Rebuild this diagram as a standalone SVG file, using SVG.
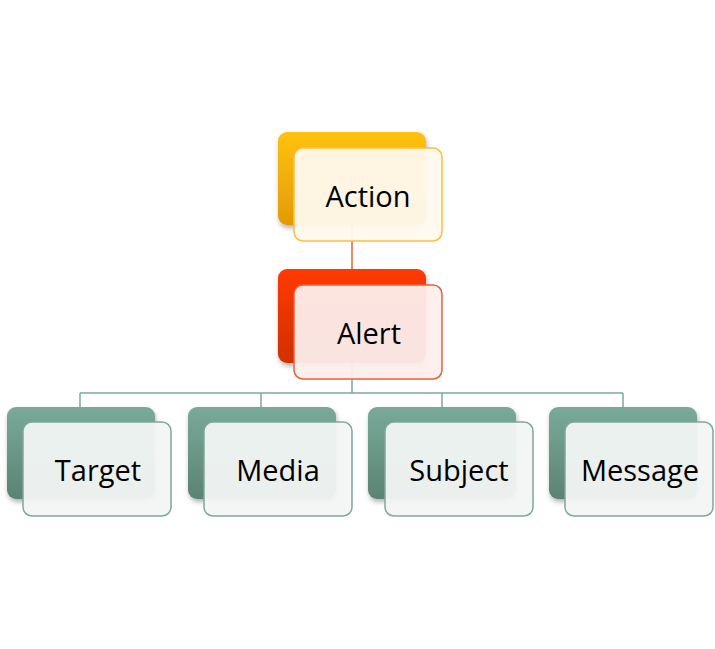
<svg xmlns="http://www.w3.org/2000/svg" width="715" height="649" viewBox="0 0 715 649">
<defs>
<linearGradient id="gA" x1="0" y1="0" x2="0" y2="1"><stop offset="0" stop-color="#FFC20F"/><stop offset="1" stop-color="#E29A05"/></linearGradient>
<linearGradient id="gR" x1="0" y1="0" x2="0" y2="1"><stop offset="0" stop-color="#FF3A00"/><stop offset="1" stop-color="#CF3002"/></linearGradient>
<linearGradient id="gT" x1="0" y1="0" x2="0" y2="1"><stop offset="0" stop-color="#79AA99"/><stop offset="1" stop-color="#5B8373"/></linearGradient>
<filter id="sh" x="-10%" y="-10%" width="125%" height="130%"><feDropShadow dx="1" dy="3" stdDeviation="2.5" flood-color="#000" flood-opacity="0.3"/></filter>
</defs>
<style>
.lbl{font-family:"Open Sans","Noto Sans","Liberation Sans",sans-serif;font-size:29px;fill:#000;text-anchor:middle}
.back{filter:url(#sh)}
.fA{fill:#FFF9EE;fill-opacity:0.95;stroke:#FFBE3C;stroke-width:1.5}
.fR{fill:#FCEEEB;fill-opacity:0.95;stroke:#E8603C;stroke-width:1.5}
.fT{fill:#F2F5F4;fill-opacity:0.95;stroke:#7FA89A;stroke-width:1.5}
.cR{stroke:#E8603C;stroke-width:1.5;fill:none}
.cT{stroke:#7FA89A;stroke-width:1.5;fill:none}
</style>
<rect width="715" height="649" fill="#fff"/>
<g id="connectors">
<path class="cR" d="M352 225 V270"/>
<path class="cT" d="M352 363 V393 M80 393 H623 M80 393 V408 M261 393 V408 M442 393 V408 M623 393 V408"/>
</g>
<g id="action">
<rect class="back" x="278" y="132" width="148" height="93" rx="9" fill="url(#gA)"/>
<rect class="fA" x="294" y="148" width="148" height="93" rx="9"/>
<text class="lbl" x="368" y="207">Action</text>
</g>
<g id="alert">
<rect class="back" x="278" y="269" width="148" height="94" rx="9" fill="url(#gR)"/>
<rect class="fR" x="294" y="285" width="148" height="94" rx="9"/>
<text class="lbl" x="369" y="344">Alert</text>
</g>
<g id="target">
<rect class="back" x="7" y="407" width="148" height="92" rx="9" fill="url(#gT)"/>
<rect class="fT" x="23" y="422" width="148" height="94" rx="9"/>
<text class="lbl" x="98" y="481">Target</text>
</g>
<g id="media">
<rect class="back" x="188" y="407" width="148" height="92" rx="9" fill="url(#gT)"/>
<rect class="fT" x="204" y="422" width="148" height="94" rx="9"/>
<text class="lbl" x="278" y="481">Media</text>
</g>
<g id="subject">
<rect class="back" x="368" y="407" width="148" height="92" rx="9" fill="url(#gT)"/>
<rect class="fT" x="385" y="422" width="148" height="94" rx="9"/>
<text class="lbl" x="459" y="481">Subject</text>
</g>
<g id="message">
<rect class="back" x="549" y="407" width="148" height="92" rx="9" fill="url(#gT)"/>
<rect class="fT" x="565" y="422" width="148" height="94" rx="9"/>
<text class="lbl" x="640" y="481">Message</text>
</g>
</svg>
